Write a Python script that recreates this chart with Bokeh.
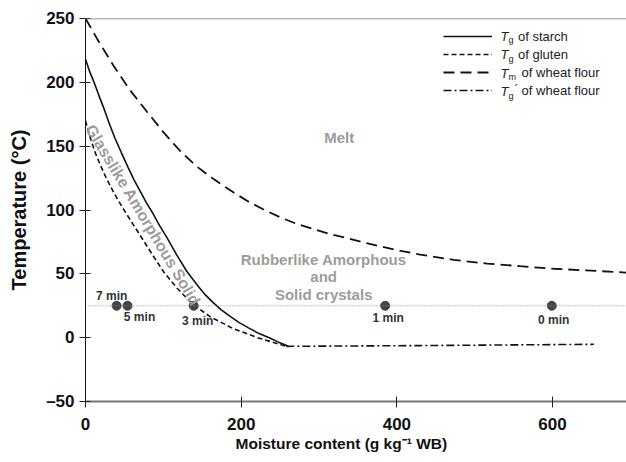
import math
from bokeh.plotting import figure
from bokeh.models import (Range1d, Span, Label, Legend, LegendItem, ColumnDataSource,
                          FixedTicker, Title)
from bokeh.core.properties import value
from bokeh.embed import file_html
from bokeh.resources import INLINE

# ---------------- data ----------------
starch_x = [0, 5, 11, 17, 24, 31, 38, 46, 55, 62, 70, 78, 86, 95, 105, 117, 130, 145,
            154, 163, 174, 185, 197, 210, 223, 236, 248, 260]
starch_T = [218, 209, 200, 190, 179, 167, 156, 145, 133, 124, 115, 106, 98, 88, 78, 65,
            52, 40, 33.5, 28, 22, 17, 12, 7.5, 3.2, 0, -3.5, -6.5]

gluten_x = [0, 4, 7, 11, 15, 20, 24, 30, 36, 43, 50, 62, 74, 87, 101, 118, 138, 160,
            190, 221, 258]
gluten_T = [170, 161, 155, 147.5, 141, 134, 128.5, 121, 114, 106.5, 99.5, 88, 76.5, 64,
            51, 38.5, 26, 16.5, 7, 0, -6.8]

melt_x = [0, 15, 36, 57, 79, 100, 122, 143, 165, 187, 208, 230, 251, 272, 293, 315, 336,
          358, 379, 405, 430, 473, 516, 558, 601, 650, 695]
melt_T = [250, 234, 213, 194, 177, 161, 146, 134, 124, 115, 107, 100, 94, 89, 85, 81, 78,
          74.5, 71.5, 68, 65, 61, 58, 56, 54, 52.5, 51]

tgp_x = [258, 430, 653]
tgp_T = [-6.8, -6.2, -5.2]

room_T = 25
time_labels = ["7 min", "5 min", "3 min", "1 min", "0 min"]
time_moisture = [40, 54, 139, 385, 599]

x_ticks = [0, 200, 400, 600]
x_tick_labels = ["0", "200", "400", "600"]
y_ticks = [-50, 0, 50, 100, 150, 200, 250]
y_tick_labels = ["\u201350", "0", "50", "100", "150", "200", "250"]

x_title = "Moisture content (g kg\u207b\u00b9 WB)"
y_title = "Temperature (\u00b0C)"

FONT = "Liberation Sans"
GRAY = "#9c9c9c"

# ---------------- figure ----------------
p = figure(width=626, height=462, output_backend="svg", toolbar_location=None,
           x_range=Range1d(0, 695), y_range=Range1d(-50, 250),
           min_border_left=85, min_border_right=0, min_border_top=18, min_border_bottom=61)
p.outline_line_color = None
p.xgrid.visible = False
p.ygrid.visible = False
p.background_fill_color = "white"
p.border_fill_color = "white"

# axes
p.xaxis.ticker = FixedTicker(ticks=x_ticks)
p.yaxis.ticker = FixedTicker(ticks=y_ticks)
p.xaxis.major_label_overrides = dict(zip(x_ticks, x_tick_labels))
p.yaxis.major_label_overrides = dict(zip(y_ticks, y_tick_labels))
for ax in (p.xaxis, p.yaxis):
    ax.minor_tick_line_color = None
    ax.major_label_text_font = FONT
    ax.major_label_text_font_style = "bold"
    ax.major_label_text_font_size = "17px"
    ax.major_label_text_color = "#111"
    ax.axis_label_text_font = FONT
    ax.axis_label_text_font_style = "bold"
    ax.axis_label_text_color = "#111"
    ax.major_tick_line_color = "#222"
    ax.major_tick_in = 5
    ax.major_tick_out = 6
p.yaxis.axis_label = y_title
p.yaxis.axis_label_text_font_size = "20px"
p.xaxis.axis_line_color = "#777"
p.xaxis.axis_line_width = 2
p.yaxis.axis_line_color = "#111"
p.yaxis.axis_line_width = 1
p.xaxis.major_label_standoff = 10
p.yaxis.major_label_standoff = 5
p.yaxis.axis_label_standoff = 13

# x-axis title, placed where the reference has it (slightly left of frame centre)
p.add_layout(Title(text=x_title, align="left", offset=150, standoff=0,
                   text_font=FONT, text_font_style="bold", text_font_size="15.5px",
                   text_color="#111"), "below")

# top border
p.add_layout(Span(location=250, dimension="width", line_color="#777", line_width=1.5))

# room temperature dotted line
p.add_layout(Span(location=room_T, dimension="width", line_color="#888",
                  line_width=1, line_dash="1 2"))

# curves
r_starch = p.line(starch_x, starch_T, line_color="#111", line_width=1.6)
r_gluten = p.line(gluten_x, gluten_T, line_color="#111", line_width=1.6, line_dash="5 3")
r_melt = p.line(melt_x, melt_T, line_color="#111", line_width=1.8, line_dash="11 6")
r_tgp = p.line(tgp_x, tgp_T, line_color="#111", line_width=1.6, line_dash="8 3 2 3")

# points
src = ColumnDataSource(dict(x=time_moisture, y=[room_T] * len(time_moisture), t=time_labels,
                            dx=[-5, 12, 4, 3, 2], dy=[-10, 11, 15, 12, 14]))
p.scatter("x", "y", source=src, size=9, color="#444")
p.text("x", "y", text="t", source=src, x_offset="dx", y_offset="dy",
       text_font=value(FONT), text_font_style="bold", text_font_size="12px",
       text_color="#333", text_align="center", text_baseline="middle")

# region labels
def glabel(x, y, txt, size="15px", **kw):
    p.add_layout(Label(x=x, y=y, text=txt, text_font=FONT, text_font_style="bold",
                       text_font_size=size, text_color=GRAY, text_align="center",
                       text_baseline="middle", **kw))

glabel(326, 156.5, "Melt")
glabel(306, 61.3, "Rubberlike Amorphous")
glabel(306, 47.6, "and")
glabel(306, 34.1, "Solid crystals")
glabel(74, 96, "Glasslike Amorphous Solid", size="16px", angle=-59, angle_units="deg")

# legend (line samples from renderers, rich label text via labels)
items = [LegendItem(label="of starch", renderers=[r_starch]),
         LegendItem(label="of gluten", renderers=[r_gluten]),
         LegendItem(label=" of wheat flour", renderers=[r_melt]),
         LegendItem(label=" of wheat flour", renderers=[r_tgp])]
leg = Legend(items=items, location=(358, 302), padding=0, margin=0, spacing=0,
             glyph_width=49, glyph_height=18, label_height=18, label_standoff=26,
             label_text_font=FONT, label_text_font_size="13px", label_text_color="#222",
             border_line_alpha=0, background_fill_alpha=0)
p.add_layout(leg)

rows_y = [35.7, 54.3, 72.7, 91]
subs = ["g", "g", "m", "g"]
for i, (ry, s) in enumerate(zip(rows_y, subs)):
    sy = 401 - ry
    p.add_layout(Label(x=500 - 85, y=sy, x_units="screen", y_units="screen", text="T",
                       text_font=FONT, text_font_style="italic", text_font_size="13px",
                       text_color="#222", text_baseline="middle", text_align="left"))
    p.add_layout(Label(x=508 - 85, y=sy - 4, x_units="screen", y_units="screen", text=s,
                       text_font=FONT, text_font_size="9px",
                       text_color="#222", text_baseline="middle", text_align="left"))
    if i == 3:
        p.add_layout(Label(x=514 - 85, y=sy + 2, x_units="screen", y_units="screen",
                           text="\u00b4", text_font=FONT, text_font_size="12px",
                           text_color="#222", text_baseline="middle", text_align="left"))

open("out.html", "w").write(file_html(p, INLINE))
